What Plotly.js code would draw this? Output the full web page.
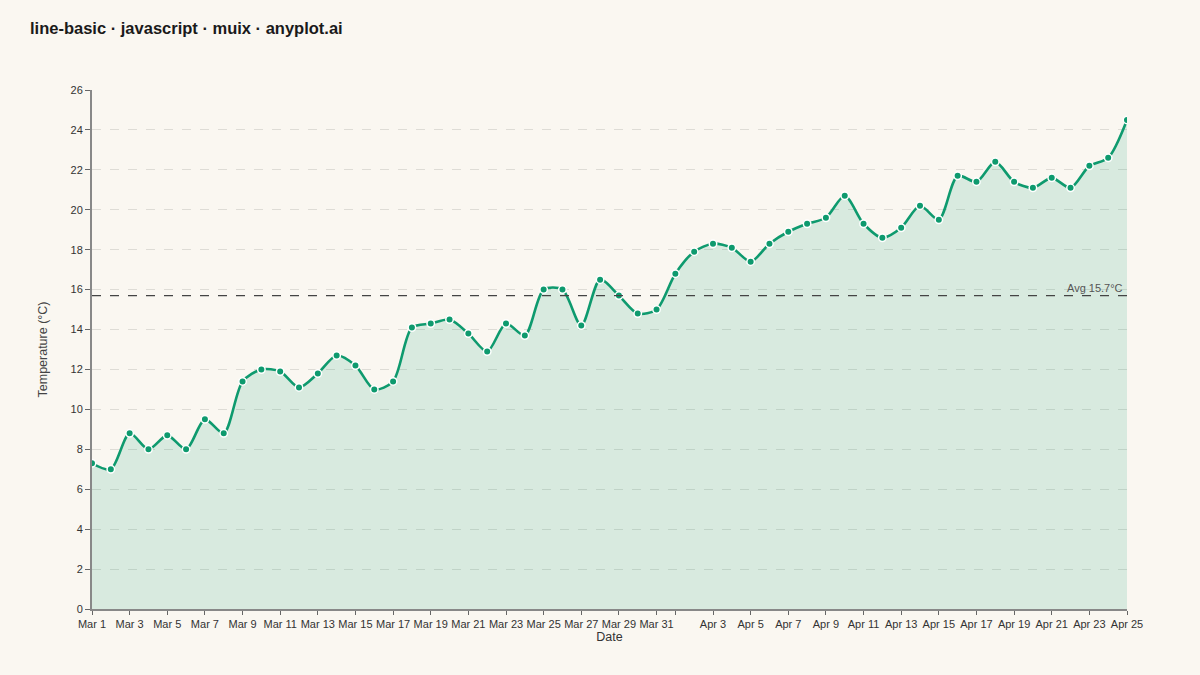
<!DOCTYPE html>
<html>
<head>
<meta charset="utf-8">
<script src="https://cdn.plot.ly/plotly-3.0.1.min.js"></script>
<style>
  html, body { margin: 0; padding: 0; background: #FAF7F1; }
  #chart { width: 1200px; height: 675px; }
</style>
</head>
<body>
<div id="chart"></div>
<script>
'use strict';

// daily temperatures, Mar 1 .. Apr 25
const dates = [];
for (let d = new Date(Date.UTC(2024, 2, 1)); d <= new Date(Date.UTC(2024, 3, 25)); d.setUTCDate(d.getUTCDate() + 1)) {
    dates.push(d.toISOString().slice(0, 10));
}

const temps = [
    7.3, 7.0, 8.8, 8.0, 8.7, 8.0, 9.5, 8.8, 11.4, 12.0,
    11.9, 11.1, 11.8, 12.7, 12.2, 11.0, 11.4, 14.1, 14.3, 14.5,
    13.8, 12.9, 14.3, 13.7, 16.0, 16.0, 14.2, 16.5, 15.7, 14.8, 15.0,
    16.8, 17.9, 18.3, 18.1, 17.4, 18.3, 18.9, 19.3, 19.6, 20.7,
    19.3, 18.6, 19.1, 20.2, 19.5, 21.7, 21.4, 22.4, 21.4, 21.1,
    21.6, 21.1, 22.2, 22.6, 24.5
];

// ticks on odd days of each month; Apr 1 label is crowded out
const months = ['Jan', 'Feb', 'Mar', 'Apr', 'May'];
const tickDates = [];
const tickLabels = [];
dates.forEach(ds => {
    const m = parseInt(ds.slice(5, 7)) - 1;
    const day = parseInt(ds.slice(8, 10));
    if (day % 2 === 1) {
        tickDates.push(ds);
        tickLabels.push(m === 3 && day === 1 ? '' : months[m] + ' ' + day);
    }
});

const avg = temps.reduce((a, b) => a + b, 0) / temps.length;

const green = '#0E9A6E';

const series = {
    x: dates,
    y: temps,
    type: 'scatter',
    mode: 'lines+markers',
    line: { color: green, width: 2.6, shape: 'spline', smoothing: 0.8 },
    marker: { color: green, size: 7.5, line: { color: '#ffffff', width: 1.5 } },
    fill: 'tozeroy',
    fillcolor: 'rgba(14,154,110,0.14)',
    hoverinfo: 'x+y',
    showlegend: false
};

const layout = {
    width: 1200,
    height: 675,
    paper_bgcolor: '#FAF7F1',
    plot_bgcolor: '#FAF7F1',
    font: { family: 'Liberation Sans, Arial, sans-serif', color: '#444', size: 11 },
    margin: { l: 92, r: 73, t: 90, b: 66 },
    title: {
        text: '<b>line-basic · javascript · muix · anyplot.ai</b>',
        xref: 'container', x: 30 / 1200, xanchor: 'left',
        yref: 'container', y: 1 - 28 / 675, yanchor: 'middle',
        font: { size: 16.5, color: '#1a1a1a' }
    },
    xaxis: {
        type: 'date',
        range: [dates[0], dates[dates.length - 1]],
        tickvals: tickDates,
        ticktext: tickLabels,
        tickangle: 0,
        ticks: 'outside',
        ticklen: 4,
        tickcolor: '#666',
        showgrid: false,
        zeroline: false,
        showline: true,
        linecolor: '#888',
        linewidth: 2,
        tickfont: { size: 11, color: '#333' },
        title: { text: 'Date', font: { size: 12.5, color: '#333' }, standoff: 1 }
    },
    yaxis: {
        range: [0, 26],
        dtick: 2,
        ticks: 'outside',
        ticklen: 5,
        tickcolor: '#666',
        showgrid: true,
        gridcolor: '#DEDCD6',
        griddash: 'dash',
        gridwidth: 1,
        zeroline: false,
        showline: true,
        linecolor: '#888',
        linewidth: 2,
        tickfont: { size: 11, color: '#333' },
        title: { text: 'Temperature (°C)', font: { size: 12.5, color: '#444' }, standoff: 20 }
    },
    shapes: [{
        type: 'line',
        xref: 'paper', x0: 0, x1: 1,
        yref: 'y', y0: avg, y1: avg,
        line: { color: '#444', width: 1.2, dash: 'dash' }
    }],
    annotations: [{
        xref: 'paper', x: 1, xanchor: 'right',
        yref: 'y', y: avg, yanchor: 'bottom',
        text: 'Avg ' + avg.toFixed(1) + '°C',
        showarrow: false,
        font: { size: 11, color: '#555' },
        xshift: -2,
        yshift: 0
    }]
};

Plotly.newPlot('chart', [series], layout, { displayModeBar: false, staticPlot: true });
</script>
</body>
</html>
